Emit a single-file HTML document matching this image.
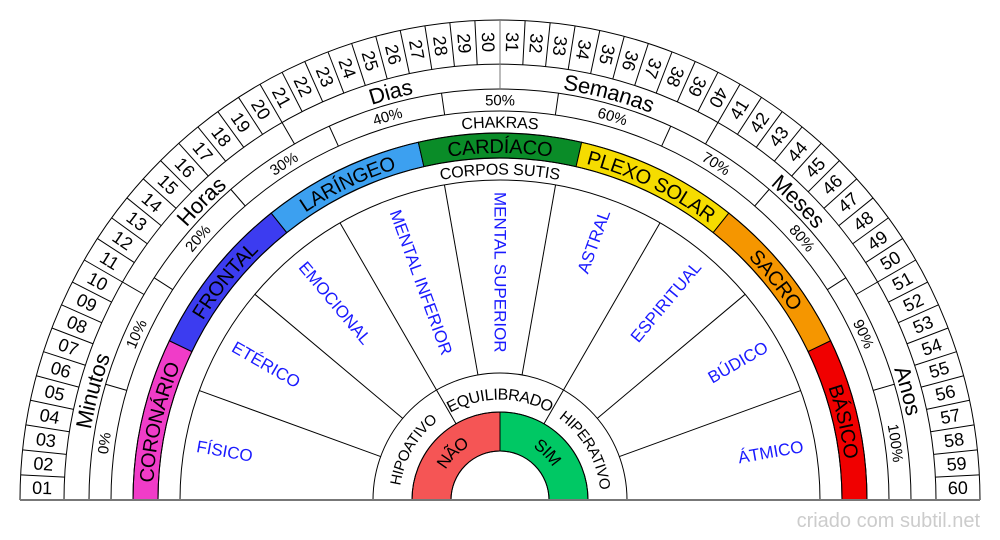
<!DOCTYPE html>
<html><head><meta charset="utf-8">
<style>
html,body{margin:0;padding:0;background:#fff;width:1000px;height:540px;overflow:hidden}
svg{display:block;font-family:"Liberation Sans",sans-serif}
</style></head>
<body>
<svg id="s" width="1000" height="540" viewBox="0 0 1000 540" xmlns="http://www.w3.org/2000/svg"></svg>
<script>
var CX=500,CY=500,out=[],defs=[],pid={};
function P(r,t){var a=t*Math.PI/180;return [CX-r*Math.cos(a),CY-r*Math.sin(a)];}
function f(n){return n.toFixed(2);}
function sector(r1,r2,t1,t2,fill){
  var a=P(r2,t1),b=P(r2,t2),c=P(r1,t2),d=P(r1,t1);
  out.push('<path d="M'+f(a[0])+' '+f(a[1])+' A'+r2+' '+r2+' 0 0 1 '+f(b[0])+' '+f(b[1])+' L'+f(c[0])+' '+f(c[1])+' A'+r1+' '+r1+' 0 0 0 '+f(d[0])+' '+f(d[1])+'Z" fill="'+fill+'" stroke="#000" stroke-width="1"/>');
}
function arc(r){out.push('<path d="M'+(CX-r)+' '+CY+' A'+r+' '+r+' 0 0 1 '+(CX+r)+' '+CY+'" fill="none" stroke="#000" stroke-width="1"/>');}
function line(r1,r2,t,col){var a=P(r1,t),b=P(r2,t);out.push('<line x1="'+f(a[0])+'" y1="'+f(a[1])+'" x2="'+f(b[0])+'" y2="'+f(b[1])+'" stroke="'+(col||'#000')+'" stroke-width="1"/>');}
function txt(s,r,t,rot,size,col,anchor){var p=P(r,t);out.push('<text x="'+f(p[0])+'" y="'+f(p[1])+'" transform="rotate('+f(rot)+' '+f(p[0])+' '+f(p[1])+')" font-size="'+size+'" fill="'+(col||'#000')+'" text-anchor="'+(anchor||'middle')+'" dominant-baseline="central">'+s+'</text>');}
function tang(s,r,t,size,col){
  var id='a'+r;
  if(!pid[id]){pid[id]=1;defs.push('<path id="'+id+'" d="M'+(CX-r)+' '+CY+' A'+r+' '+r+' 0 0 1 '+(CX+r)+' '+CY+'"/>');}
  out.push('<text font-size="'+size+'" fill="'+(col||'#000')+'" text-anchor="middle" dy="0.35em"><textPath href="#'+id+'" startOffset="'+f(t/180*100)+'%">'+s+'</textPath></text>');
}
var ch=[["CORONÁRIO","#f03cc8"],["FRONTAL","#3c3cf0"],["LARÍNGEO","#3ca0f0"],["CARDÍACO","#0a8c28"],["PLEXO SOLAR","#f5dc00"],["SACRO","#f59600"],["BÁSICO","#f00000"]];
var cw=180/7;
ch.forEach(function(c,i){sector(342,367,i*cw,(i+1)*cw,c[1]);});
sector(49,88,0,90,"#f55555");sector(49,88,90,180,"#00c864");
[480,436,411,389,367,342,320,127,88,49].forEach(arc);
for(var i=1;i<60;i++)line(436,480,i*3,i==30?'#777':'#000');
for(var i=1;i<6;i++)line(411,436,i*30,i==3?'#777':'#000');
var pw=180/11;for(var i=1;i<11;i++)line(389,411,i*pw);
for(var i=1;i<9;i++)line(127,320,i*20);
line(88,127,60);line(88,127,120);
for(var i=1;i<=60;i++){var t=(i-0.5)*3;var s=(i<10?'0':'')+i;
  if(i<=40)txt(s,458,t,t,18);else txt(s,458,t,t-180,18);}
["Minutos","Horas","Dias","Semanas","Meses","Anos"].forEach(function(s,i){tang(s,423,i*30+15,22);});
for(var i=0;i<=10;i++)tang((i*10)+'%',400,(i+0.5)*pw,15);
tang("CHAKRAS",378,90,16);
ch.forEach(function(c,i){tang(c[0],354,(i+0.5)*cw,20);});
tang("CORPOS SUTIS",331,90,16);
var bodies=["FÍSICO","ETÉRICO","EMOCIONAL","MENTAL INFERIOR","MENTAL SUPERIOR","ASTRAL","ESPIRITUAL","BÚDICO","ÁTMICO"];
bodies.forEach(function(s,i){var t=i*20+10;
  if(t<=90)txt(s,308,t,t,17,'#1a1aff','start');else txt(s,308,t,t-180,17,'#1a1aff','end');});
tang("HIPOATIVO",106,30,15);tang("EQUILIBRADO",106,90,16);tang("HIPERATIVO",106,150,15);
tang("NÃO",68,45,17);tang("SIM",68,135,17);
out.push('<line x1="20" y1="500" x2="980" y2="500" stroke="#777" stroke-width="2"/>');
out.push('<text x="980" y="527" font-size="20" fill="#cccccc" text-anchor="end">criado com subtil.net</text>');
document.getElementById('s').innerHTML='<defs>'+defs.join('')+'</defs>'+out.join('');
</script>
</body></html>
